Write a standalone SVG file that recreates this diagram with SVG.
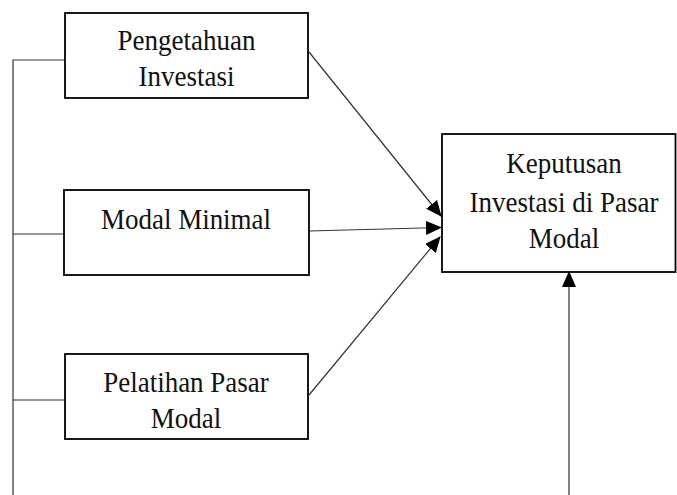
<svg xmlns="http://www.w3.org/2000/svg" width="677" height="495" viewBox="0 0 677 495">
<defs>
<style>
.box{fill:#fff;stroke:#000;stroke-width:1.8}
.t{font-family:"Liberation Serif","Times New Roman",serif;font-size:27px;fill:#111;text-anchor:middle}
.c{fill:none;stroke:#333;stroke-width:1.2}
</style>
<marker id="ah" markerUnits="userSpaceOnUse" markerWidth="16" markerHeight="14" refX="15" refY="7" orient="auto" viewBox="0 0 16 14">
<path d="M0,0 L16,7 L0,14 z" fill="#000"/>
</marker>
</defs>
<rect width="677" height="495" fill="#fff"/>
<g id="connectors">
<path class="c" d="M13,495 V60 H65"/>
<path class="c" d="M13,234 H64"/>
<path class="c" d="M13,400 H65"/>
<path class="c" d="M309,52 L441,216" marker-end="url(#ah)"/>
<path class="c" d="M309,231 L441,227.5" marker-end="url(#ah)"/>
<path class="c" d="M309,395 L440,237" marker-end="url(#ah)"/>
<path class="c" d="M569,495 V272" marker-end="url(#ah)"/>
</g>
<g id="node-pengetahuan">
<rect class="box" x="65" y="13" width="243" height="85"/>
<text class="t" transform="translate(186.5,50) scale(1,1.1)">Pengetahuan</text>
<text class="t" transform="translate(186.5,86) scale(1,1.1)">Investasi</text>
</g>
<g id="node-modal-minimal">
<rect class="box" x="64" y="190" width="245" height="85"/>
<text class="t" transform="translate(186,229) scale(1,1.1)">Modal Minimal</text>
</g>
<g id="node-pelatihan">
<rect class="box" x="65" y="354" width="243" height="85"/>
<text class="t" transform="translate(186,392) scale(1,1.1)">Pelatihan Pasar</text>
<text class="t" transform="translate(186,428) scale(1,1.1)">Modal</text>
</g>
<g id="node-keputusan">
<rect class="box" x="442" y="134" width="233.5" height="138"/>
<text class="t" transform="translate(564,173) scale(1,1.1)">Keputusan</text>
<text class="t" transform="translate(564,211.5) scale(1,1.1)">Investasi di Pasar</text>
<text class="t" transform="translate(564,248) scale(1,1.1)">Modal</text>
</g>
</svg>
